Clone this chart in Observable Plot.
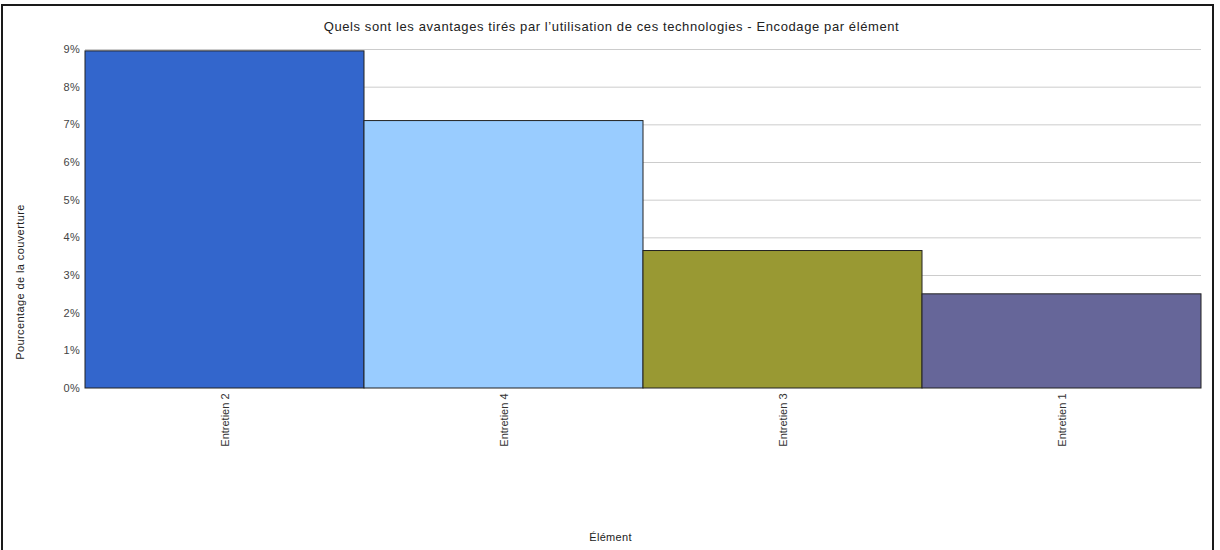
<!DOCTYPE html>
<html>
<head>
<meta charset="utf-8">
<script src="https://cdn.jsdelivr.net/npm/d3@7"></script>
<script src="https://cdn.jsdelivr.net/npm/@observablehq/plot@0.6"></script>
<style>
  html, body { margin: 0; padding: 0; background: #fff; }
  #wrap { position: relative; width: 1220px; height: 550px; overflow: hidden; }
  #frame { position: absolute; left: 1px; top: 4px; width: 1213px; height: 560px; border: 2px solid #1a1a1a; box-sizing: border-box; pointer-events: none; }
  #ylabel { position: absolute; left: 20px; top: 282px; transform: translate(-50%, -50%) rotate(-90deg); white-space: nowrap;
            font-family: "Liberation Sans", Arial, sans-serif; font-size: 11px; letter-spacing: 0.4px; color: #222; }
  svg { font-family: "Liberation Sans", Arial, sans-serif; }
</style>
</head>
<body>
<div id="wrap"><div id="frame"></div><div id="ylabel"></div></div>
<script>
const categories = ["Entretien 2", "Entretien 4", "Entretien 3", "Entretien 1"];
const values = [8.95, 7.1, 3.65, 2.5];
const colors = ["#3366CC", "#99CCFF", "#999933", "#666699"];
const yTicks = [0, 1, 2, 3, 4, 5, 6, 7, 8, 9];
const title = "Quels sont les avantages tirés par l’utilisation de ces technologies - Encodage par élément";
const xLabel = "Élément";
const yLabel = "Pourcentage de la couverture";

const data = categories.map((c, i) => ({category: c, value: values[i], color: colors[i]}));

const chart = Plot.plot({
  width: 1220,
  height: 550,
  marginLeft: 85,
  marginRight: 19,
  marginTop: 49,
  marginBottom: 162,
  style: {fontFamily: "'Liberation Sans', Arial, sans-serif", fontSize: "11px", color: "#333", background: "transparent"},
  x: {type: "band", domain: categories, padding: 0, label: null},
  y: {domain: [0, 9], label: null},
  marks: [
    Plot.ruleY(yTicks.filter(d => d > 0), {stroke: "#cccccc", strokeWidth: 1, strokeOpacity: 1}),
    Plot.barY(data, {x: "category", y: "value", fill: "color", stroke: "#222", strokeWidth: 1}),
    Plot.axisY({ticks: yTicks, tickFormat: d => d + "%", tickSize: 0, tickPadding: 5, label: null, fill: "#444", fontSize: 11}),
    Plot.axisX({tickSize: 0, tickPadding: 5, tickRotate: -90, label: null, fill: "#333", fontSize: 11}),
    Plot.text([title], {frameAnchor: "top", dx: -32, dy: -23, text: d => d, fontSize: 13, fill: "#222", lineAnchor: "middle"}),
    Plot.text([xLabel], {frameAnchor: "bottom", dx: -33, dy: 149, text: d => d, fontSize: 11, fill: "#222", lineAnchor: "middle"})
  ]
});
d3.select(chart).selectAll("text").each(function() {
  const t = this.textContent;
  if (t === title) this.setAttribute("letter-spacing", "0.6px");
  else if (t === xLabel) this.setAttribute("letter-spacing", "0.3px");
  else if (/^\d%$/.test(t)) this.setAttribute("letter-spacing", "0.6px");
});
document.getElementById("wrap").prepend(chart);
document.getElementById("ylabel").textContent = yLabel;
</script>
</body>
</html>
